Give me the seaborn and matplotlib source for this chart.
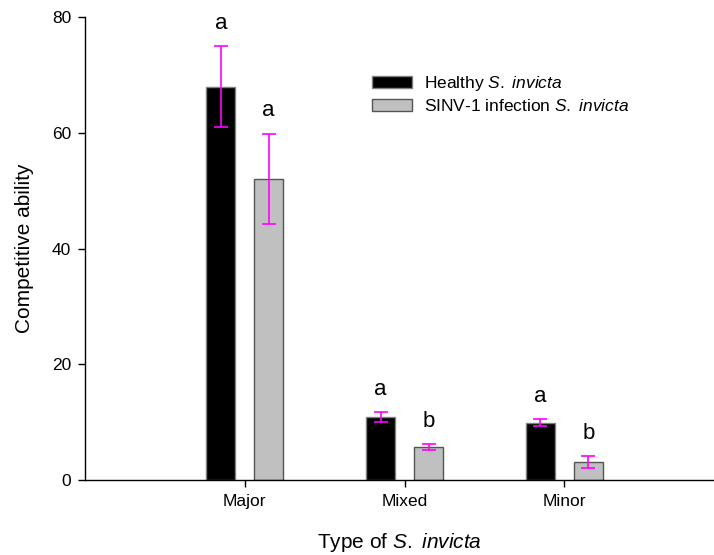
import numpy as np
import pandas as pd
import matplotlib
matplotlib.use("Agg")
import matplotlib.pyplot as plt
import seaborn as sns
from matplotlib.patches import Patch

categories = ["Major", "Mixed", "Minor"]
groups = ["Healthy", "SINV-1 infection"]
healthy_mean = [68.0, 10.9, 9.9]
healthy_err = [7.0, 0.8, 0.6]
infected_mean = [52.1, 5.7, 3.1]
infected_err = [7.8, 0.5, 1.0]
healthy_letters = ["a", "a", "a"]
infected_letters = ["a", "b", "b"]
yticks = [0, 20, 40, 60, 80]

sns.set_theme(style="ticks")
plt.rcParams["font.family"] = ["Liberation Sans", "DejaVu Sans"]
plt.rcParams["mathtext.fontset"] = "custom"
plt.rcParams["mathtext.rm"] = "Liberation Sans"
plt.rcParams["mathtext.it"] = "Liberation Sans:italic"
plt.rcParams["text.color"] = "black"
plt.rcParams["axes.labelcolor"] = "black"
plt.rcParams["xtick.color"] = "black"
plt.rcParams["ytick.color"] = "black"

df = pd.DataFrame({
    "Type": categories * 2,
    "Group": [groups[0]] * 3 + [groups[1]] * 3,
    "Value": healthy_mean + infected_mean,
})

fig = plt.figure(figsize=(7.14, 5.55), dpi=100)
ax = fig.add_axes([0.119, 0.135, 0.8795, 0.834])

sns.barplot(data=df, x="Type", y="Value", hue="Group", order=categories,
            hue_order=groups, palette=["#000000", "#C0C0C0"], width=0.6, gap=0.4,
            errorbar=None, ax=ax, legend=False)

edgecolors = ["#808080", "#555555"]
errs = [healthy_err, infected_err]
means = [healthy_mean, infected_mean]
letters = [healthy_letters, infected_letters]
patches = ax.patches
for gi in range(2):
    for ci in range(3):
        p = patches[gi * 3 + ci]
        p.set_edgecolor(edgecolors[gi])
        p.set_linewidth(1.0)
        xc = p.get_x() + p.get_width() / 2
        ax.errorbar(xc, means[gi][ci], yerr=errs[gi][ci], color="#FF00FF",
                    capsize=5, capthick=1.2, elinewidth=1.2, zorder=5)
        ax.annotate(letters[gi][ci], (xc, means[gi][ci] + errs[gi][ci]),
                    xytext=(0, 9), textcoords="offset points", ha="center",
                    va="bottom", fontsize=16, color="black")

ax.set_xlim(-1, 2.93)
ax.set_ylim(0, 80)
ax.set_yticks(yticks)
ax.tick_params(axis="both", labelsize=12.5, length=5, width=1, color="black", pad=5)
for s in ["top", "right"]:
    ax.spines[s].set_visible(False)
for s in ["left", "bottom"]:
    ax.spines[s].set_color("black")
    ax.spines[s].set_linewidth(1)

ax.set_ylabel("Competitive ability", fontsize=15, labelpad=13)
ax.set_xlabel("Type of $\\mathit{S.}$ $\\mathit{invicta}$", fontsize=15, labelpad=16)

handles = [Patch(facecolor="#000000", edgecolor="#808080"),
           Patch(facecolor="#C0C0C0", edgecolor="#555555")]
labels = ["Healthy $\\mathit{S.}$ $\\mathit{invicta}$",
          "SINV-1 infection $\\mathit{S.}$ $\\mathit{invicta}$"]
ax.legend(handles, labels, loc="upper left", bbox_to_anchor=(0.457, 0.877),
          bbox_transform=ax.transAxes, borderpad=0, borderaxespad=0,
          frameon=False, fontsize=12.5, handlelength=2.3, handleheight=0.7,
          labelspacing=0.3, handletextpad=0.7)

fig.savefig("out.png", dpi=100)
